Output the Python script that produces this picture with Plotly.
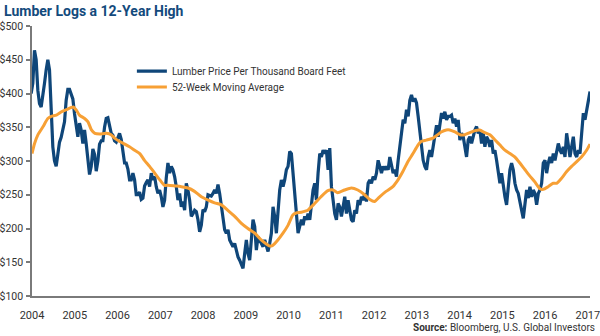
import numpy as np
import plotly.graph_objects as go

# Weekly lumber price (USD per thousand board feet), sampled roughly every two weeks
# from the start of 2004 through early January 2017.
price_start, price_end = 2003.98, 2017.05
lumber_price = [
    # 2004 - 2007
    400, 415, 464, 450, 405, 385, 380, 395, 415, 435, 450, 435, 361, 321, 300, 292,
    310, 328, 335, 348, 358, 390, 406, 406, 398, 392, 370, 350, 336, 356, 346, 326,
    346, 326, 301, 280, 292, 318, 310, 285, 300, 325, 330, 330, 350, 363, 364, 352,
    341, 338, 330, 328, 336, 341, 332, 310, 297, 297, 288, 272, 272, 282, 272, 250,
    250, 254, 243, 245, 263, 268, 272, 262, 282, 272, 277, 262, 252, 257, 247, 232,
    242, 275,
    # 2007 - 2010
    297, 282, 292, 287, 277, 262, 242, 252, 232, 240, 227, 267, 257, 242, 218, 222,
    227, 225, 213, 195, 205, 228, 225, 232, 250, 249, 248, 252, 257, 252, 265, 252,
    232, 213, 198, 193, 198, 183, 178, 173, 178, 168, 158, 153, 148, 141, 163, 183,
    163, 153, 183, 213, 203, 168, 188, 183, 178, 173, 183, 173, 166, 178, 193, 232,
    218, 193, 232, 257, 272, 262, 272, 287, 292, 314, 311, 282, 242, 213, 193, 203,
    213, 205, 218, 213,
    # 2010 - 2013
    222, 213, 242, 257, 267, 242, 282, 311, 306, 316, 311, 316, 287, 319, 262, 237,
    222, 213, 237, 232, 218, 232, 247, 222, 242, 227, 213, 210, 227, 222, 242, 235,
    247, 242, 252, 240, 267, 272, 267, 277, 272, 282, 301, 292, 282, 292, 287, 292,
    287, 306, 292, 282, 287, 277, 301, 324, 336, 361, 356, 376, 366, 390, 398, 388,
    393, 386, 366, 346, 321, 301, 292, 287, 306, 316, 306, 321, 341, 353, 336, 351,
    371, 363, 373, 361, 366,
    # 2013 - 2017
    366, 368, 356, 363, 351, 361, 331, 341, 336, 321, 306, 331, 336, 326, 336, 346,
    351, 341, 346, 326, 341, 321, 336, 331, 321, 331, 311, 316, 301, 282, 267, 282,
    262, 247, 235, 262, 287, 297, 287, 267, 257, 252, 237, 227, 215, 237, 257, 245,
    262, 247, 257, 252, 235, 252, 257, 267, 297, 301, 282, 297, 306, 297, 311, 301,
    316, 326, 316, 311, 321, 306, 341, 321, 306, 321, 336, 311, 306, 316, 311, 341,
    371, 361, 376, 390, 403,
]
price_years = np.linspace(price_start, price_end, len(lumber_price))

# 52-week moving average (year, value)
ma_years = [
    2004.00, 2004.06, 2004.14, 2004.26, 2004.37, 2004.45, 2004.57, 2004.69, 2004.80, 2004.96,
    2005.04, 2005.11, 2005.23, 2005.31, 2005.39, 2005.47, 2005.58, 2005.74, 2005.85, 2005.93,
    2006.05, 2006.17, 2006.28, 2006.40, 2006.52, 2006.63, 2006.75, 2006.87, 2006.99, 2007.10,
    2007.18, 2007.34, 2007.49, 2007.65, 2007.80, 2007.96, 2008.12, 2008.27, 2008.43, 2008.58,
    2008.74, 2008.89, 2009.05, 2009.21, 2009.36, 2009.48, 2009.56, 2009.63, 2009.75, 2009.87,
    2009.99, 2010.10, 2010.18, 2010.30, 2010.41, 2010.45, 2010.61, 2010.76, 2010.92, 2011.04,
    2011.15, 2011.31, 2011.47, 2011.62, 2011.78, 2011.90, 2012.01, 2012.13, 2012.28, 2012.44,
    2012.56, 2012.67, 2012.79, 2012.91, 2013.03, 2013.10, 2013.22, 2013.38, 2013.49, 2013.57,
    2013.69, 2013.77, 2013.89, 2014.01, 2014.12, 2014.24, 2014.36, 2014.47, 2014.59, 2014.71,
    2014.83, 2014.94, 2015.06, 2015.18, 2015.29, 2015.41, 2015.53, 2015.64, 2015.76, 2015.88,
    2015.96, 2016.07, 2016.19, 2016.27, 2016.38, 2016.50, 2016.62, 2016.74, 2016.85, 2016.97,
    2017.05,
]
ma_values = [
    311, 326, 339, 351, 363, 366, 368, 373, 376, 380,
    375, 368, 363, 358, 346, 341, 340, 341, 339, 334,
    329, 325, 321, 316, 311, 301, 292, 282, 272, 264,
    264, 263, 262, 260, 255, 247, 242, 238, 235, 227,
    218, 208, 200, 193, 183, 177, 174, 175, 183, 193,
    205, 220, 223, 224, 226, 227, 237, 247, 256, 257,
    253, 257, 260, 257, 250, 243, 240, 247, 255, 262,
    272, 284, 299, 311, 324, 329, 331, 334, 339, 343,
    346, 346, 343, 339, 339, 342, 345, 346, 342, 339,
    331, 324, 316, 311, 306, 297, 287, 278, 269, 259,
    258, 262, 267, 267, 274, 284, 292, 299, 306, 316,
    325,
]

year_ticks = list(range(2004, 2018))
price_ticks = list(range(100, 501, 50))
price_tick_labels = [f"${v}" for v in price_ticks]

BLUE = "#0f4679"
ORANGE = "#f7a035"
TEXT = "#333333"
AXIS = "#7a7a7a"
FONT = "Roboto"

legend_style = dict(
    xanchor="left", yanchor="middle", bgcolor="rgba(0,0,0,0)",
    font=dict(size=10, color=TEXT), itemwidth=30,
)

fig = go.Figure()
fig.add_trace(go.Scatter(
    x=price_years, y=lumber_price, mode="lines",
    name="Lumber Price Per Thousand Board Feet",
    line=dict(color=BLUE, width=3.2), legend="legend",
))
fig.add_trace(go.Scatter(
    x=ma_years, y=ma_values, mode="lines",
    name="52-Week Moving Average",
    line=dict(color=ORANGE, width=3, shape="spline", smoothing=0.6), legend="legend2",
))

fig.update_layout(
    width=600, height=336,
    margin=dict(l=32, r=10, t=26, b=40),
    paper_bgcolor="white", plot_bgcolor="white",
    font=dict(family=FONT, size=11, color=TEXT),
    showlegend=True,
    legend=dict(x=0.179, y=0.833, **legend_style),
    legend2=dict(x=0.179, y=0.774, **legend_style),
    xaxis=dict(
        range=[2004, 2017.05], tickvals=year_ticks, ticktext=[str(y) for y in year_ticks],
        showgrid=False, zeroline=False, showline=True, linecolor=AXIS, linewidth=1.5,
        ticks="", ticklabelstandoff=8, ticklabeloverflow="allow", automargin=False,
        tickfont=dict(size=11, color=TEXT),
    ),
    yaxis=dict(
        range=[100, 500], tickvals=price_ticks, ticktext=price_tick_labels,
        showgrid=False, zeroline=False, showline=True, linecolor=AXIS, linewidth=1.5,
        ticks="outside", ticklen=4, tickcolor=AXIS, tickwidth=1.5, automargin=False,
        ticklabelstandoff=1, ticklabeloverflow="allow",
        tickfont=dict(size=10.5, color=TEXT),
    ),
)

fig.add_annotation(
    text="<b>Lumber Logs a 12-Year High</b>",
    xref="paper", yref="paper", x=-0.054, y=1.056, xanchor="left", yanchor="middle",
    showarrow=False, font=dict(family=FONT, size=14, color="#134a7c"),
)
fig.add_annotation(
    text="<b>Source:</b> Bloomberg, U.S. Global Investors",
    xref="paper", yref="paper", x=1.012, y=-0.115, xanchor="right", yanchor="middle",
    showarrow=False, font=dict(family=FONT, size=10, color=TEXT),
)

fig.write_html("out.html")
